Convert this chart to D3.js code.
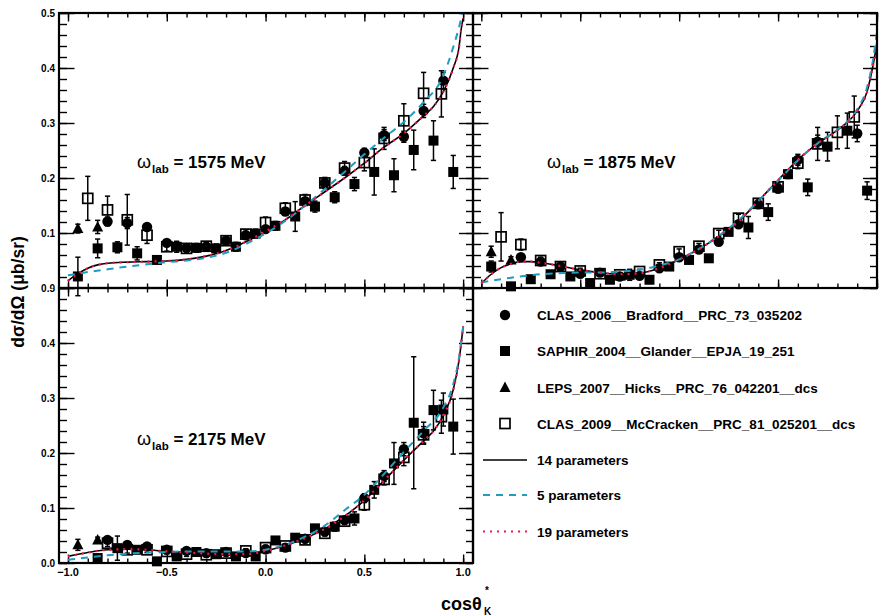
<!DOCTYPE html>
<html><head><meta charset="utf-8">
<script src="https://cdn.jsdelivr.net/npm/d3@7"></script>
<style>body{margin:0;background:#fff}svg{display:block}</style>
</head><body><svg id="c" width="885" height="616"></svg>
<script>
// ---------------- data ----------------
const xTickLabels = [-1.0, -0.5, 0.0, 0.5, 1.0];
const yTickLabels = [0.0, 0.1, 0.2, 0.3, 0.4, 0.5];
const energies = ["1575", "1875", "2175"];
const legendNames = ["CLAS_2006__Bradford__PRC_73_035202", "SAPHIR_2004__Glander__EPJA_19_251",
  "LEPS_2007__Hicks__PRC_76_042201__dcs", "CLAS_2009__McCracken__PRC_81_025201__dcs"];
const curveNames = ["14 parameters", "5 parameters", "19 parameters"];

// [cos, dsigma, error]
const clas06_1575 = [[-0.80,0.121,0.008],[-0.70,0.118,0.010],[-0.60,0.111,0.006],[-0.50,0.082,0.005],[-0.40,0.073,0.005],[-0.30,0.075,0.005],[-0.20,0.086,0.005],[-0.10,0.096,0.005],[0.0,0.107,0.005],[0.10,0.139,0.006],[0.20,0.158,0.006],[0.30,0.191,0.007],[0.40,0.213,0.008],[0.50,0.246,0.008],[0.60,0.278,0.010],[0.70,0.275,0.010],[0.80,0.322,0.012],[0.90,0.377,0.015]];
const saphir_1575 = [[-0.95,0.021,0.035],[-0.85,0.072,0.017],[-0.75,0.074,0.010],[-0.65,0.063,0.012],[-0.55,0.051,0.006],[-0.45,0.075,0.010],[-0.35,0.073,0.008],[-0.25,0.072,0.008],[-0.15,0.075,0.008],[-0.05,0.099,0.008],[0.05,0.113,0.008],[0.15,0.130,0.027],[0.25,0.148,0.010],[0.35,0.165,0.010],[0.45,0.189,0.012],[0.55,0.211,0.042],[0.65,0.205,0.030],[0.75,0.251,0.036],[0.85,0.268,0.036],[0.95,0.211,0.030]];
const leps_1575 = [[-0.95,0.108,0.008],[-0.85,0.111,0.012]];
const clas09_1575 = [[-0.90,0.163,0.040],[-0.80,0.142,0.025],[-0.70,0.124,0.046],[-0.60,0.096,0.015],[-0.50,0.075,0.008],[-0.40,0.072,0.008],[-0.30,0.076,0.007],[-0.20,0.086,0.007],[-0.10,0.098,0.008],[0.0,0.119,0.010],[0.10,0.145,0.010],[0.20,0.160,0.010],[0.30,0.191,0.010],[0.40,0.218,0.012],[0.50,0.228,0.015],[0.60,0.272,0.020],[0.70,0.304,0.031],[0.80,0.354,0.038],[0.89,0.353,0.042]];

const clas06_1875 = [[-0.80,0.056,0.006],[-0.70,0.048,0.005],[-0.60,0.039,0.004],[-0.50,0.026,0.004],[-0.40,0.028,0.004],[-0.30,0.021,0.004],[-0.20,0.022,0.004],[-0.10,0.036,0.004],[0.0,0.056,0.004],[0.10,0.070,0.005],[0.20,0.084,0.005],[0.30,0.116,0.006],[0.40,0.152,0.007],[0.50,0.181,0.008],[0.60,0.233,0.010],[0.70,0.266,0.012],[0.90,0.281,0.015]];
const saphir_1875 = [[-0.95,0.039,0.010],[-0.85,0.003,0.006],[-0.75,0.016,0.006],[-0.65,0.025,0.006],[-0.55,0.021,0.005],[-0.45,0.009,0.005],[-0.35,0.015,0.005],[-0.25,0.024,0.010],[-0.15,0.015,0.006],[-0.05,0.039,0.005],[0.05,0.051,0.005],[0.15,0.054,0.006],[0.25,0.102,0.006],[0.35,0.110,0.020],[0.45,0.138,0.015],[0.55,0.207,0.008],[0.65,0.183,0.015],[0.75,0.257,0.026],[0.85,0.286,0.032],[0.95,0.177,0.016]];
const leps_1875 = [[-0.95,0.066,0.010],[-0.85,0.051,0.006]];
const clas09_1875 = [[-0.90,0.093,0.044],[-0.80,0.079,0.010],[-0.70,0.050,0.006],[-0.60,0.039,0.005],[-0.50,0.031,0.005],[-0.40,0.026,0.004],[-0.30,0.024,0.004],[-0.20,0.030,0.004],[-0.10,0.042,0.004],[0.0,0.066,0.005],[0.10,0.076,0.005],[0.20,0.099,0.006],[0.30,0.127,0.007],[0.40,0.154,0.008],[0.50,0.184,0.008],[0.60,0.227,0.010],[0.70,0.262,0.030],[0.80,0.283,0.030],[0.885,0.311,0.038]];

const clas06_2175 = [[-0.80,0.042,0.004],[-0.70,0.033,0.004],[-0.60,0.030,0.004],[-0.50,0.024,0.003],[-0.40,0.022,0.003],[-0.30,0.018,0.003],[-0.20,0.020,0.003],[-0.10,0.018,0.003],[0.0,0.025,0.003],[0.10,0.028,0.004],[0.20,0.044,0.004],[0.30,0.057,0.005],[0.40,0.078,0.006],[0.50,0.118,0.008],[0.60,0.158,0.010],[0.70,0.207,0.012],[0.80,0.236,0.020]];
const saphir_2175 = [[-0.85,0.009,0.006],[-0.75,0.027,0.022],[-0.65,0.024,0.006],[-0.55,0.003,0.006],[-0.45,0.012,0.005],[-0.35,0.020,0.005],[-0.25,0.016,0.004],[-0.15,0.012,0.004],[-0.05,0.012,0.004],[0.05,0.041,0.005],[0.15,0.046,0.005],[0.25,0.063,0.006],[0.35,0.066,0.008],[0.45,0.081,0.012],[0.55,0.133,0.015],[0.65,0.181,0.038],[0.75,0.255,0.120],[0.85,0.278,0.036],[0.90,0.279,0.030],[0.95,0.248,0.050]];
const leps_2175 = [[-0.95,0.033,0.010],[-0.85,0.042,0.005]];
const clas09_2175 = [[-0.80,0.036,0.006],[-0.70,0.024,0.006],[-0.60,0.024,0.005],[-0.50,0.021,0.004],[-0.40,0.016,0.004],[-0.30,0.015,0.004],[-0.20,0.018,0.004],[-0.10,0.022,0.004],[0.0,0.028,0.004],[0.10,0.031,0.004],[0.20,0.042,0.005],[0.30,0.054,0.005],[0.40,0.076,0.006],[0.50,0.106,0.010],[0.60,0.152,0.010],[0.70,0.192,0.015],[0.80,0.233,0.015],[0.89,0.266,0.030]];

// fit curves [cos, dsigma]
const fit14_1575 = [[-1.0,0.013],[-0.95,0.026],[-0.9,0.036],[-0.85,0.042],[-0.8,0.045],[-0.7,0.047],[-0.6,0.048],[-0.5,0.049],[-0.4,0.052],[-0.3,0.058],[-0.2,0.068],[-0.1,0.084],[0.0,0.103],[0.1,0.124],[0.2,0.150],[0.3,0.175],[0.4,0.200],[0.5,0.227],[0.6,0.256],[0.7,0.281],[0.8,0.313],[0.85,0.330],[0.9,0.357],[0.95,0.400],[0.98,0.440],[0.99,0.470],[1.0,0.490]];
const fit5_1575 = [[-1.0,0.023],[-0.9,0.029],[-0.8,0.034],[-0.7,0.039],[-0.6,0.043],[-0.5,0.047],[-0.4,0.050],[-0.3,0.055],[-0.2,0.064],[-0.1,0.080],[0.0,0.099],[0.1,0.122],[0.2,0.150],[0.3,0.180],[0.4,0.211],[0.5,0.243],[0.6,0.273],[0.7,0.302],[0.8,0.338],[0.9,0.386],[0.95,0.438],[0.98,0.475],[1.0,0.505]];
const fit19_1575 = [[-1.0,0.013],[-0.95,0.026],[-0.9,0.036],[-0.85,0.042],[-0.8,0.045],[-0.7,0.047],[-0.6,0.048],[-0.5,0.049],[-0.4,0.052],[-0.3,0.058],[-0.2,0.068],[-0.1,0.084],[0.0,0.103],[0.1,0.124],[0.2,0.150],[0.3,0.175],[0.4,0.200],[0.5,0.227],[0.6,0.256],[0.7,0.281],[0.8,0.313],[0.85,0.330],[0.9,0.357],[0.95,0.400],[0.98,0.440],[0.99,0.470],[1.0,0.490]];

const fit14_1875 = [[-1.0,0.008],[-0.95,0.025],[-0.9,0.037],[-0.85,0.044],[-0.8,0.048],[-0.75,0.048],[-0.7,0.046],[-0.6,0.040],[-0.5,0.033],[-0.4,0.028],[-0.3,0.025],[-0.2,0.027],[-0.1,0.036],[0.0,0.052],[0.1,0.071],[0.2,0.094],[0.3,0.121],[0.4,0.158],[0.5,0.196],[0.6,0.233],[0.7,0.263],[0.8,0.287],[0.9,0.322],[0.95,0.357],[0.98,0.405],[1.0,0.445]];
const fit5_1875 = [[-1.0,0.010],[-0.9,0.016],[-0.8,0.021],[-0.7,0.025],[-0.6,0.027],[-0.5,0.028],[-0.4,0.028],[-0.3,0.030],[-0.2,0.033],[-0.1,0.041],[0.0,0.052],[0.1,0.071],[0.2,0.095],[0.3,0.123],[0.4,0.158],[0.5,0.195],[0.6,0.232],[0.7,0.263],[0.8,0.288],[0.9,0.325],[0.95,0.365],[0.98,0.415],[1.0,0.465]];
const fit19_1875 = [[-1.0,0.008],[-0.95,0.025],[-0.9,0.037],[-0.85,0.044],[-0.8,0.048],[-0.75,0.048],[-0.7,0.046],[-0.6,0.040],[-0.5,0.033],[-0.4,0.028],[-0.3,0.025],[-0.2,0.027],[-0.1,0.036],[0.0,0.052],[0.1,0.071],[0.2,0.094],[0.3,0.121],[0.4,0.158],[0.5,0.196],[0.6,0.233],[0.7,0.263],[0.8,0.287],[0.9,0.322],[0.95,0.357],[0.98,0.405],[1.0,0.445]];

const fit14_2175 = [[-1.0,0.012],[-0.9,0.019],[-0.8,0.024],[-0.7,0.025],[-0.6,0.024],[-0.5,0.021],[-0.4,0.019],[-0.3,0.017],[-0.2,0.016],[-0.1,0.016],[0.0,0.022],[0.1,0.032],[0.2,0.045],[0.3,0.062],[0.4,0.085],[0.5,0.114],[0.6,0.150],[0.7,0.187],[0.8,0.222],[0.85,0.240],[0.9,0.268],[0.95,0.315],[0.98,0.370],[1.0,0.430]];
const fit5_2175 = [[-1.0,0.006],[-0.9,0.010],[-0.8,0.014],[-0.7,0.017],[-0.6,0.019],[-0.5,0.020],[-0.4,0.021],[-0.3,0.021],[-0.2,0.021],[-0.1,0.021],[0.0,0.024],[0.1,0.033],[0.2,0.048],[0.3,0.068],[0.4,0.096],[0.5,0.124],[0.6,0.162],[0.7,0.202],[0.8,0.240],[0.9,0.283],[0.95,0.325],[0.98,0.375],[1.0,0.430]];
const fit19_2175 = [[-1.0,0.012],[-0.9,0.019],[-0.8,0.024],[-0.7,0.025],[-0.6,0.024],[-0.5,0.021],[-0.4,0.019],[-0.3,0.017],[-0.2,0.016],[-0.1,0.016],[0.0,0.022],[0.1,0.032],[0.2,0.045],[0.3,0.062],[0.4,0.085],[0.5,0.114],[0.6,0.150],[0.7,0.187],[0.8,0.222],[0.85,0.240],[0.9,0.268],[0.95,0.315],[0.98,0.370],[1.0,0.430]];

// ---------------- drawing ----------------
const FONT = "'Liberation Sans', Arial, Helvetica, sans-serif";
const CYAN = "#1f9cc0", RED = "#f0174a";
const svg = d3.select("#c");
const defs = svg.append("defs");

const panels = [
  {E: energies[0], box:[59,473,13,288], dom:[-1.0456,1.05], data:[clas06_1575,saphir_1575,leps_1575,clas09_1575], fits:[fit14_1575,fit5_1575,fit19_1575], labAt:[137,168], yLab:"top"},
  {E: energies[1], box:[473,877,13,288], dom:[-1.042,1.0], data:[clas06_1875,saphir_1875,leps_1875,clas09_1875], fits:[fit14_1875,fit5_1875,fit19_1875], labAt:[547,168], yLab:null},
  {E: energies[2], box:[59,473,288,563], dom:[-1.0456,1.05], data:[clas06_2175,saphir_2175,leps_2175,clas09_2175], fits:[fit14_2175,fit5_2175,fit19_2175], labAt:[137,445], yLab:"bottom", xLab:true}
];

defs.append("clipPath").attr("id","clipUp").append("rect").attr("x",0).attr("y",0).attr("width",885).attr("height",288);
defs.append("clipPath").attr("id","clipDown").append("rect").attr("x",0).attr("y",288).attr("width",885).attr("height",330);

function marker(g, type, cx, cy) {
  if (type === 0) g.append("circle").attr("cx",cx).attr("cy",cy).attr("r",5.2).attr("fill","#000");
  else if (type === 1) g.append("rect").attr("x",cx-5).attr("y",cy-5).attr("width",10).attr("height",10).attr("fill","#000");
  else if (type === 2) g.append("path").attr("d",`M${cx},${cy-6}L${cx+5.5},${cy+4.5}L${cx-5.5},${cy+4.5}Z`).attr("fill","#000");
  else g.append("rect").attr("x",cx-5).attr("y",cy-5).attr("width",10).attr("height",10).attr("fill","none").attr("stroke","#000").attr("stroke-width",1.7);
}

panels.forEach((p, pi) => {
  const [x0,x1,y0,y1] = p.box;
  const xs = d3.scaleLinear().domain(p.dom).range([x0,x1]);
  const ys = d3.scaleLinear().domain([0,0.5]).range([y1,y0]);
  const g = svg.append("g");
  const cid = "clipP"+pi;
  defs.append("clipPath").attr("id",cid).append("rect").attr("x",x0).attr("y",y0).attr("width",x1-x0).attr("height",y1-y0);

  const minorX = d3.range(-10,11).map(i=>i/10);
  const minorY = d3.range(0,26).map(i=>i/50);
  const tk = (sel) => { sel.select(".domain").remove(); sel.selectAll("line").attr("stroke","#000").attr("stroke-width",1.4); };

  g.append("g").attr("transform",`translate(0,${y1})`).call(d3.axisBottom(xs).tickValues(minorX).tickSize(-4.5).tickFormat("")).call(tk);
  g.append("g").attr("transform",`translate(0,${y1})`).call(d3.axisBottom(xs).tickValues(xTickLabels).tickSize(-8.5).tickFormat("")).call(tk);
  g.append("g").attr("transform",`translate(0,${y0})`).call(d3.axisTop(xs).tickValues(minorX).tickSize(-4.5).tickFormat("")).call(tk);
  g.append("g").attr("transform",`translate(0,${y0})`).call(d3.axisTop(xs).tickValues(xTickLabels).tickSize(-8.5).tickFormat("")).call(tk);
  g.append("g").attr("transform",`translate(${x0},0)`).call(d3.axisLeft(ys).tickValues(minorY).tickSize(-8).tickFormat("")).call(tk);
  g.append("g").attr("transform",`translate(${x0},0)`).call(d3.axisLeft(ys).tickValues(yTickLabels).tickSize(-15.5).tickFormat("")).call(tk);
  g.append("g").attr("transform",`translate(${x1},0)`).call(d3.axisRight(ys).tickValues(minorY).tickSize(-7).tickFormat("")).call(tk);
  g.append("g").attr("transform",`translate(${x1},0)`).call(d3.axisRight(ys).tickValues(yTickLabels).tickSize(-14).tickFormat("")).call(tk);

  // y labels (absolute coordinates so the shared boundary label can be clipped)
  if (p.yLab) {
    const lab = g.append("g").attr("clip-path", p.yLab === "top" ? "url(#clipUp)" : "url(#clipDown)");
    yTickLabels.forEach(v => {
      lab.append("text").attr("x", x0 - 4).attr("y", ys(v)).attr("dy","0.36em").attr("text-anchor","end")
        .attr("font-family",FONT).attr("font-weight","bold").attr("font-size",10).attr("fill","#000")
        .text(d3.format(".1f")(v));
    });
  }
  if (p.xLab) {
    xTickLabels.forEach(v => {
      g.append("text").attr("x", xs(v)).attr("y", y1 + 13).attr("text-anchor","middle")
        .attr("font-family",FONT).attr("font-weight","bold").attr("font-size",11).attr("fill","#000")
        .text(d3.format(".1f")(v));
    });
  }

  // data points with error bars
  p.data.forEach((ds, k) => {
    const gd = g.append("g");
    ds.forEach(d => {
      const cx = xs(d[0]), cy = ys(d[1]), ea = ys(d[1]+d[2]), eb = ys(d[1]-d[2]);
      gd.append("line").attr("x1",cx).attr("x2",cx).attr("y1",ea).attr("y2",eb).attr("stroke","#000").attr("stroke-width",1.5);
      gd.append("line").attr("x1",cx-2.6).attr("x2",cx+2.6).attr("y1",ea).attr("y2",ea).attr("stroke","#000").attr("stroke-width",1.5);
      gd.append("line").attr("x1",cx-2.6).attr("x2",cx+2.6).attr("y1",eb).attr("y2",eb).attr("stroke","#000").attr("stroke-width",1.5);
      marker(gd, k, cx, cy);
    });
  });

  // curves
  const line = d3.line().x(d=>xs(d[0])).y(d=>ys(d[1])).curve(d3.curveMonotoneX);
  const gc = g.append("g").attr("clip-path",`url(#${cid})`);
  gc.append("path").attr("d",line(p.fits[0])).attr("fill","none").attr("stroke","#000").attr("stroke-width",1.6);
  gc.append("path").attr("d",line(p.fits[1])).attr("fill","none").attr("stroke",CYAN).attr("stroke-width",2).attr("stroke-dasharray","7,6");
  gc.append("path").attr("d",line(p.fits[2])).attr("fill","none").attr("stroke",RED).attr("stroke-width",2.2).attr("stroke-dasharray","2,5");

  // frame
  g.append("rect").attr("x",x0).attr("y",y0).attr("width",x1-x0).attr("height",y1-y0)
    .attr("fill","none").attr("stroke","#000").attr("stroke-width",2.2);

  // energy label
  const t = g.append("text").attr("x",p.labAt[0]).attr("y",p.labAt[1]).attr("font-family",FONT).attr("fill","#000");
  t.append("tspan").attr("font-size",18).text("ω");
  t.append("tspan").attr("font-size",11.5).attr("font-weight","bold").attr("dy",5).attr("dx",1).text("lab");
  t.append("tspan").attr("font-size",17).attr("font-weight","bold").attr("dy",-5).text(" = " + p.E + " MeV");
});

// legend area left border
svg.append("line").attr("x1",473).attr("x2",473).attr("y1",288).attr("y2",563).attr("stroke","#000").attr("stroke-width",2.2);

// legend
const lg = svg.append("g");
const legRows = [315, 351, 387.5, 423.5];
legendNames.forEach((n, i) => {
  marker(lg, i, 505, legRows[i]);
  lg.append("text").attr("x",537).attr("y",legRows[i]+5).attr("font-family",FONT).attr("font-weight","bold").attr("font-size",13.5).text(n);
});
const lineRows = [460, 495, 531.5];
const lineStyles = [{c:"#000",d:null,w:1.6},{c:CYAN,d:"7,6",w:2},{c:RED,d:"2,5",w:2.2}];
curveNames.forEach((n, i) => {
  const l = lg.append("line").attr("x1",483).attr("x2",527).attr("y1",lineRows[i]).attr("y2",lineRows[i])
    .attr("stroke",lineStyles[i].c).attr("stroke-width",lineStyles[i].w);
  if (lineStyles[i].d) l.attr("stroke-dasharray",lineStyles[i].d);
  lg.append("text").attr("x",537).attr("y",lineRows[i]+5).attr("font-family",FONT).attr("font-weight","bold").attr("font-size",13.5).text(n);
});

// axis titles
svg.append("text").attr("transform","translate(24,292) rotate(-90)").attr("text-anchor","middle")
  .attr("font-family",FONT).attr("font-weight","bold").attr("font-size",17.5).text("dσ/dΩ (μb/sr)");
svg.append("text").attr("x",441).attr("y",610).attr("font-family",FONT).attr("font-weight","bold").attr("font-size",18).text("cosθ");
svg.append("text").attr("x",485).attr("y",594).attr("font-family",FONT).attr("font-weight","bold").attr("font-size",10).text("*");
svg.append("text").attr("x",484).attr("y",615).attr("font-family",FONT).attr("font-weight","bold").attr("font-size",10).text("K");
</script></body></html>
